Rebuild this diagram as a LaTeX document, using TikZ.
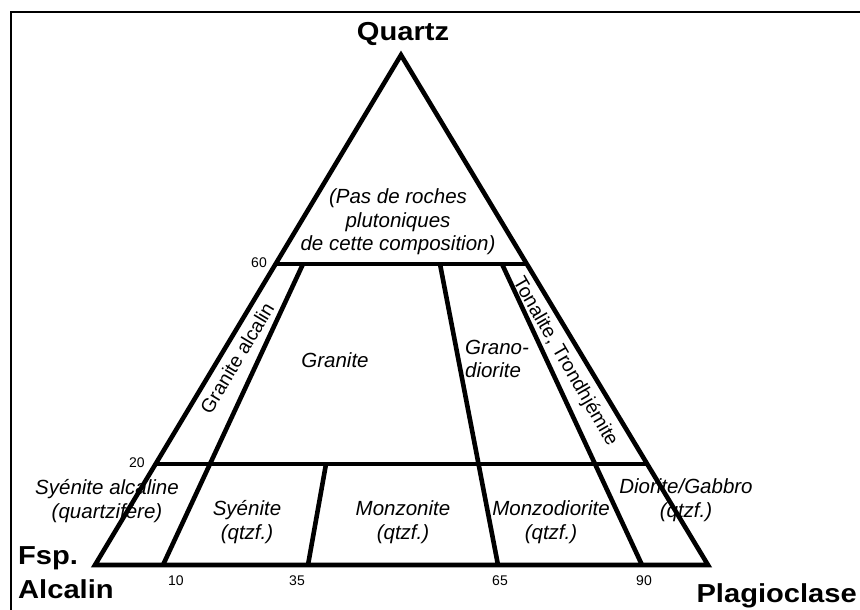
\documentclass[tikz,border=0pt]{standalone}
\usepackage{fontspec}
\setmainfont{Liberation Sans}
\newfontfamily\bigbold[FakeStretch=1.12]{Liberation Sans Bold}
\begin{document}
\begin{tikzpicture}[x=1pt,y=-1pt,
  edge/.style={line width=4.6pt,line join=miter,line cap=butt},
  frame/.style={line width=2.2pt},
  corner/.style={font=\bigbold\fontsize{26}{30}\selectfont,inner sep=0pt},
  field/.style={font=\itshape\fontsize{20.5}{23.5}\selectfont,align=center,inner sep=0pt},
  bandlbl/.style={font=\fontsize{19.5}{22}\selectfont,inner sep=0pt},
  tick/.style={font=\fontsize{14}{15}\selectfont,inner sep=0pt}]
\useasboundingbox (0,0) rectangle (860,610);
\fill[white] (0,0) rectangle (860,610);
% frame
\coordinate (fTL) at (11,12);
\coordinate (fTR) at (860,12);
\coordinate (fBL) at (11,610);
\draw[frame] (fBL) -- (fTL) -- (fTR);
% vertices
\coordinate (A) at (95,565);
\coordinate (P) at (708,565);
\coordinate (Q) at (401,55);
% horizontal lines
\coordinate (L20) at (155.6,464);
\coordinate (R20) at (647.2,464);
\coordinate (L60) at (275.6,264);
\coordinate (R60) at (526.8,264);
% radial lines
\coordinate (b10) at (163,565);   \coordinate (t10) at (303,264);
\coordinate (b35) at (308,565);   \coordinate (t35) at (326,464);
\coordinate (b65) at (498,565);   \coordinate (t65) at (440,264);
\coordinate (b90) at (642,565);   \coordinate (t90) at (502,264);
\draw[edge] (A) -- (P) -- (Q) -- cycle;
\draw[edge] (L20) -- (R20);
\draw[edge] (L60) -- (R60);
\draw[edge] (b10) -- (t10);
\draw[edge] (b35) -- (t35);
\draw[edge] (b65) -- (t65);
\draw[edge] (b90) -- (t90);
% corner labels
\node[corner,anchor=base] (lq) at (403,41) {Quartz};
\node[corner,anchor=base west] (lf) at (18,564) {Fsp.};
\node[corner,anchor=base west] (la) at (18,598) {Alcalin};
\node[corner,anchor=base east] (lp) at (857,602) {Plagioclase};
% ticks
\node[tick] (n60) at (259,263) {60};
\node[tick] (n20) at (137,463) {20};
\node[tick] (n10) at (176,581) {10};
\node[tick] (n35) at (297,581) {35};
\node[tick] (n65) at (500,581) {65};
\node[tick] (n90) at (644,581) {90};
% fields
\node[field] (fpas) at (398,222) {(Pas de roches\\plutoniques\\de cette composition)};
\node[field] (fgra) at (335,360) {Granite};
\node[field,align=left] (fgd) at (497,359) {Grano-\\diorite};
\node[field] (fsa) at (107,501) {Syénite alcaline\\(quartzifère)};
\node[field] (fsy) at (247,522) {Syénite\\(qtzf.)};
\node[field] (fmz) at (403,522) {Monzonite\\(qtzf.)};
\node[field] (fmd) at (551,522) {Monzodiorite\\(qtzf.)};
\node[field] (fdg) at (686,500) {Diorite/Gabbro\\(qtzf.)};
\node[bandlbl,rotate=59] (fga) at (237,358) {Granite alcalin};
\node[bandlbl,rotate=-60] (fto) at (565,362) {Tonalite, Trondhjémite};
\end{tikzpicture}
\end{document}
